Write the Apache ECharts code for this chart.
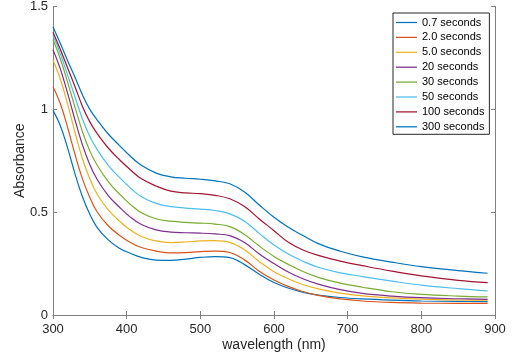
<!DOCTYPE html>
<html>
<head>
<meta charset="utf-8">
<script src="https://cdn.jsdelivr.net/npm/echarts@6/dist/echarts.min.js"></script>
<style>
html,body{margin:0;padding:0;background:#fff;}
#chart{width:521px;height:358px;}
</style>
</head>
<body>
<div id="chart"></div>
<script>
// wavelength grid (nm)
var wavelengths = [300,310,320,330,340,350,360,375,390,405,420,440,460,480,500,520,540,560,580,600,620,640,660,690,720,760,800,850,890];

// absorbance for each exposure time
var s0_7 = [0.995,0.92,0.81,0.685,0.575,0.49,0.425,0.365,0.325,0.30,0.28,0.267,0.266,0.272,0.28,0.284,0.279,0.245,0.198,0.158,0.13,0.11,0.097,0.085,0.078,0.072,0.068,0.066,0.065];
var s2_0 = [1.11,1.027,0.91,0.779,0.662,0.571,0.501,0.434,0.388,0.353,0.328,0.311,0.302,0.303,0.308,0.311,0.304,0.268,0.213,0.17,0.138,0.113,0.095,0.078,0.068,0.061,0.058,0.057,0.057];
var s5_0 = [1.24,1.146,1.023,0.886,0.76,0.662,0.587,0.511,0.457,0.413,0.382,0.36,0.352,0.355,0.36,0.362,0.353,0.317,0.26,0.21,0.175,0.147,0.127,0.106,0.093,0.083,0.077,0.073,0.072];
var s20 = [1.29,1.196,1.076,0.947,0.827,0.731,0.659,0.581,0.525,0.476,0.44,0.414,0.403,0.40,0.398,0.394,0.386,0.352,0.297,0.25,0.208,0.175,0.15,0.123,0.105,0.092,0.084,0.079,0.076];
var s30 = [1.34,1.245,1.13,1.008,0.891,0.798,0.728,0.649,0.589,0.538,0.497,0.468,0.456,0.45,0.447,0.442,0.43,0.392,0.335,0.285,0.245,0.21,0.183,0.155,0.135,0.113,0.1,0.092,0.088];
var s50 = [1.36,1.27,1.165,1.059,0.953,0.868,0.804,0.728,0.67,0.618,0.575,0.543,0.527,0.52,0.515,0.508,0.492,0.456,0.397,0.34,0.295,0.26,0.232,0.205,0.187,0.165,0.145,0.128,0.117];
var s100 = [1.375,1.291,1.2,1.109,1.014,0.939,0.882,0.812,0.756,0.706,0.662,0.627,0.602,0.594,0.59,0.582,0.565,0.527,0.467,0.41,0.352,0.315,0.29,0.262,0.24,0.213,0.19,0.168,0.157];
var s300 = [1.40,1.32,1.235,1.155,1.07,1.0,0.948,0.88,0.825,0.772,0.728,0.69,0.672,0.665,0.66,0.652,0.638,0.598,0.535,0.475,0.425,0.385,0.347,0.31,0.283,0.257,0.235,0.216,0.203];

var seriesNames = ['0.7 seconds','2.0 seconds','5.0 seconds','20 seconds','30 seconds','50 seconds','100 seconds','300 seconds'];
var seriesValues = [s0_7, s2_0, s5_0, s20, s30, s50, s100, s300];
var colors = ['#0072BD','#D95319','#EDB120','#7E2F8E','#77AC30','#4DBEEE','#A2142F','#0072BD'];

var xTicks = [300,400,500,600,700,800,900];
var yTicks = [0,0.5,1,1.5];

var FONT = 'Liberation Sans, Arial, Helvetica, sans-serif';
var AXIS_COLOR = '#808080';

var series = seriesNames.map(function(name, i){
  return {
    name: name,
    type: 'line',
    xAxisIndex: 0,
    yAxisIndex: 0,
    data: wavelengths.map(function(w, j){ return [w, seriesValues[i][j]]; }),
    symbol: 'none',
    showSymbol: false,
    smooth: 0.4,
    lineStyle: {color: colors[i], width: 1.2},
    itemStyle: {color: colors[i]},
    emphasis: {disabled: true},
    silent: true
  };
});

var chart = echarts.init(document.getElementById('chart'), null, {renderer: 'canvas'});
chart.setOption({
  animation: false,
  backgroundColor: '#ffffff',
  textStyle: {fontFamily: FONT},
  grid: {left: 53, right: 26, top: 6, bottom: 43, containLabel: false},
  legend: {
    orient: 'vertical',
    left: 393,
    top: 13,
    data: seriesNames.map(function(n){ return {name: n, icon: 'path://M0,0H22V1.3H0Z'}; }),
    itemWidth: 21,
    itemHeight: 10,
    itemGap: 3.9,
    padding: [4, 5, 2, 3],
    borderColor: '#262626',
    borderWidth: 1,
    backgroundColor: '#ffffff',
    textStyle: {fontFamily: FONT, fontSize: 11, color: '#000000'},
    selectedMode: false
  },
  xAxis: [{
    type: 'value',
    min: xTicks[0],
    max: xTicks[xTicks.length - 1],
    interval: 100,
    position: 'bottom',
    name: 'wavelength (nm)',
    nameLocation: 'middle',
    nameGap: 23,
    nameMoveOverlap: false,
    nameTextStyle: {fontFamily: FONT, fontSize: 14, color: '#262626'},
    axisLine: {show: true, lineStyle: {color: AXIS_COLOR, width: 1}},
    axisTick: {show: true, inside: true, length: 4, lineStyle: {color: AXIS_COLOR}},
    axisLabel: {fontFamily: FONT, fontSize: 13, color: '#262626', margin: 8},
    splitLine: {show: false}
  }, {
    type: 'value',
    min: xTicks[0],
    max: xTicks[xTicks.length - 1],
    interval: 100,
    position: 'top',
    axisLine: {show: true, lineStyle: {color: AXIS_COLOR, width: 1}},
    axisTick: {show: true, inside: true, length: 4, lineStyle: {color: AXIS_COLOR}},
    axisLabel: {show: false},
    splitLine: {show: false}
  }],
  yAxis: [{
    type: 'value',
    min: yTicks[0],
    max: yTicks[yTicks.length - 1],
    interval: 0.5,
    position: 'left',
    name: 'Absorbance',
    nameLocation: 'middle',
    nameGap: 26,
    nameMoveOverlap: false,
    nameTextStyle: {fontFamily: FONT, fontSize: 14, color: '#262626'},
    axisLine: {show: true, lineStyle: {color: AXIS_COLOR, width: 1}},
    axisTick: {show: true, inside: true, length: 4, lineStyle: {color: AXIS_COLOR}},
    axisLabel: {fontFamily: FONT, fontSize: 13, color: '#262626', margin: 5},
    splitLine: {show: false}
  }, {
    type: 'value',
    min: yTicks[0],
    max: yTicks[yTicks.length - 1],
    interval: 0.5,
    position: 'right',
    axisLine: {show: true, lineStyle: {color: AXIS_COLOR, width: 1}},
    axisTick: {show: true, inside: true, length: 4, lineStyle: {color: AXIS_COLOR}},
    axisLabel: {show: false},
    splitLine: {show: false}
  }],
  series: series
});
</script>
</body>
</html>
